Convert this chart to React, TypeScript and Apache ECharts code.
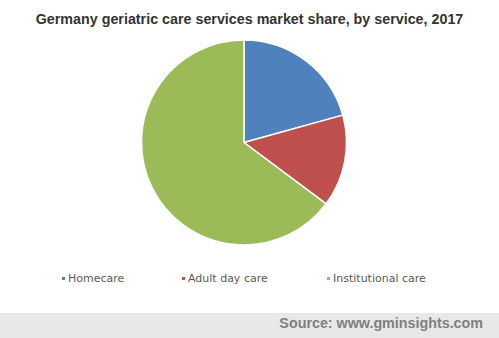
import React, { useEffect, useRef } from "react";
import * as echarts from "echarts";

const categories = ["Homecare", "Adult day care", "Institutional care"];
const shares = [20.7, 14.5, 64.8];
const colors = ["#4f81bd", "#c0504d", "#9bbb59"];
const legendLefts = [60, 180, 325];

export default function App() {
  const ref = useRef<HTMLDivElement>(null);
  useEffect(() => {
    if (!ref.current) return;
    const chart = echarts.init(ref.current, null, { renderer: "svg" });
    chart.setOption({
      animation: false,
      backgroundColor: "#ffffff",
      title: {
        text: "Germany geriatric care services market share, by service, 2017",
        left: "center",
        top: 7,
        textStyle: { fontFamily: "Liberation Sans, Arial", fontSize: 14.3, fontWeight: "bold", color: "#333333" },
      },
      legend: categories.map((c, i) => ({
        data: [c],
        left: legendLefts[i],
        top: 273,
        itemWidth: 5,
        itemHeight: 5,
        icon: "rect",
        padding: 0,
        textStyle: { fontFamily: "DejaVu Sans, Verdana", fontSize: 11, color: "#595959", padding: [0, 0, 0, -3] },
      })),
      graphic: [
        { type: "rect", left: 0, top: 313, shape: { width: 499, height: 25 }, style: { fill: "#e8e8e8" }, silent: true },
        {
          type: "text",
          right: 16,
          top: 316,
          style: { text: "Source: www.gminsights.com", fill: "#7f7f7f", font: "bold 14.3px Liberation Sans, Arial" },
        },
      ],
      series: [
        {
          type: "pie",
          center: [244, 142.5],
          radius: 102.5,
          startAngle: 90,
          clockwise: true,
          label: { show: false },
          labelLine: { show: false },
          itemStyle: { borderColor: "#ffffff", borderWidth: 1.5 },
          data: categories.map((c, i) => ({ name: c, value: shares[i], itemStyle: { color: colors[i] } })),
        },
      ],
    });
    return () => chart.dispose();
  }, []);
  return <div ref={ref} style={{ width: 499, height: 338, position: "absolute", left: 0, top: 0 }} />;
}
